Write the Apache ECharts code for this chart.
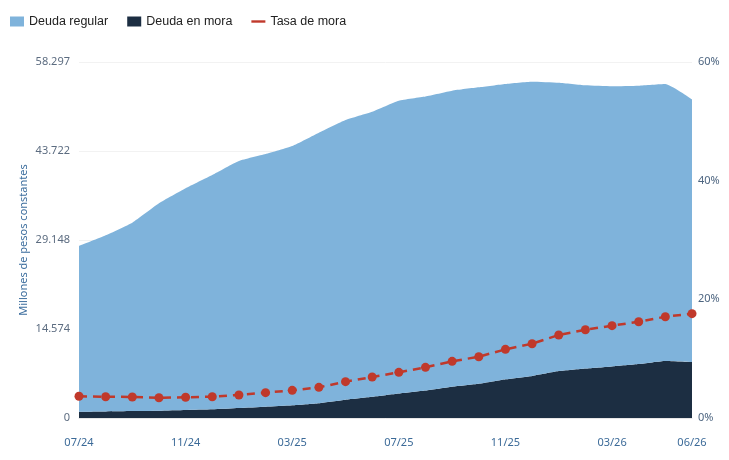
<!DOCTYPE html>
<html>
<head>
<meta charset="utf-8">
<script src="https://cdn.jsdelivr.net/npm/echarts@6/dist/echarts.min.js"></script>
<style>
  html, body { margin: 0; padding: 0; background: #fff; }
  #chart { width: 729px; height: 460px; }
</style>
</head>
<body>
<div id="chart"></div>
<script>
const months = ['07/24','08/24','09/24','10/24','11/24','12/24','01/25','02/25','03/25','04/25','05/25','06/25',
  '07/25','08/25','09/25','10/25','11/25','12/25','01/26','02/26','03/26','04/26','05/26','06/26'];

// millones de pesos constantes
const deudaRegular = [27139, 28846, 30858, 33958, 36307, 38362, 40457, 41384, 42464, 44305, 45813, 46694,
  47959, 48154, 48481, 48556, 48371, 48175, 47219, 46373, 45868, 45588, 45363, 43015];
const deudaMora = [1031, 1074, 1132, 1202, 1313, 1428, 1633, 1846, 2076, 2415, 2987, 3466,
  4001, 4496, 5119, 5594, 6329, 6895, 7681, 8107, 8452, 8832, 9337, 9175];
// porcentaje
const tasaMora = [3.66, 3.59, 3.54, 3.42, 3.49, 3.59, 3.88, 4.27, 4.66, 5.17, 6.12, 6.91,
  7.70, 8.54, 9.55, 10.33, 11.57, 12.52, 13.99, 14.88, 15.56, 16.23, 17.07, 17.58];

const yMax = 58297;

function miles(v) {
  return String(Math.floor(v)).replace(/\B(?=(\d{3})+(?!\d))/g, '.');
}

const chart = echarts.init(document.getElementById('chart'));

const option = {
  animation: false,
  textStyle: { fontFamily: 'Noto Sans' },
  legend: {
    left: 5,
    top: 10,
    itemWidth: 14,
    itemHeight: 10,
    itemGap: 19,
    textStyle: { fontSize: 12.5, color: '#222', fontFamily: 'Liberation Sans' },
    data: [
      { name: 'Deuda regular', icon: 'rect' },
      { name: 'Deuda en mora', icon: 'rect' },
      { name: 'Tasa de mora', icon: 'path://M0,0 L14,0 L14,2.4 L0,2.4 Z' }
    ]
  },
  grid: { left: 79, right: 37, top: 62, bottom: 42 },
  xAxis: {
    type: 'category',
    boundaryGap: false,
    data: months,
    axisTick: { show: false },
    axisLine: { lineStyle: { color: '#e6e6e6' } },
    axisLabel: {
      color: '#3b6a98',
      fontSize: 11,
      margin: 19,
      interval: (i) => i % 4 === 0 || i === months.length - 1
    }
  },
  yAxis: [
    {
      type: 'value',
      min: 0,
      max: yMax,
      interval: yMax / 4,
      name: 'Millones de pesos constantes',
      nameLocation: 'middle',
      nameGap: 50,
      nameMoveOverlap: false,
      nameTextStyle: { color: '#3d6e9e', fontSize: 11 },
      axisLabel: { color: '#5c6c80', fontSize: 11, margin: 9, formatter: miles },
      axisLine: { show: false },
      axisTick: { show: false },
      splitLine: { lineStyle: { color: '#f2f2f2' } }
    },
    {
      type: 'value',
      min: 0,
      max: 60,
      interval: 20,
      axisLabel: { color: '#4d6580', fontSize: 11, margin: 6, formatter: '{value}%' },
      axisLine: { show: false },
      axisTick: { show: false },
      splitLine: { show: false }
    }
  ],
  series: [
    {
      name: 'Deuda en mora',
      type: 'line',
      stack: 'deuda',
      smooth: 0.15,
      symbol: 'none',
      lineStyle: { width: 0 },
      itemStyle: { color: '#1c2e42' },
      areaStyle: { color: '#1c2e42', opacity: 1 },
      data: deudaMora
    },
    {
      name: 'Deuda regular',
      type: 'line',
      stack: 'deuda',
      smooth: 0.15,
      symbol: 'none',
      lineStyle: { width: 0 },
      itemStyle: { color: '#7fb3db' },
      areaStyle: { color: '#7fb3db', opacity: 1 },
      data: deudaRegular
    },
    {
      name: 'Tasa de mora',
      type: 'line',
      yAxisIndex: 1,
      symbol: 'circle',
      symbolSize: 9,
      itemStyle: { color: '#c0392b' },
      lineStyle: { color: '#c0392b', width: 2.5, type: [8, 6] },
      data: tasaMora,
      z: 5
    }
  ]
};

chart.setOption(option);
</script>
</body>
</html>
